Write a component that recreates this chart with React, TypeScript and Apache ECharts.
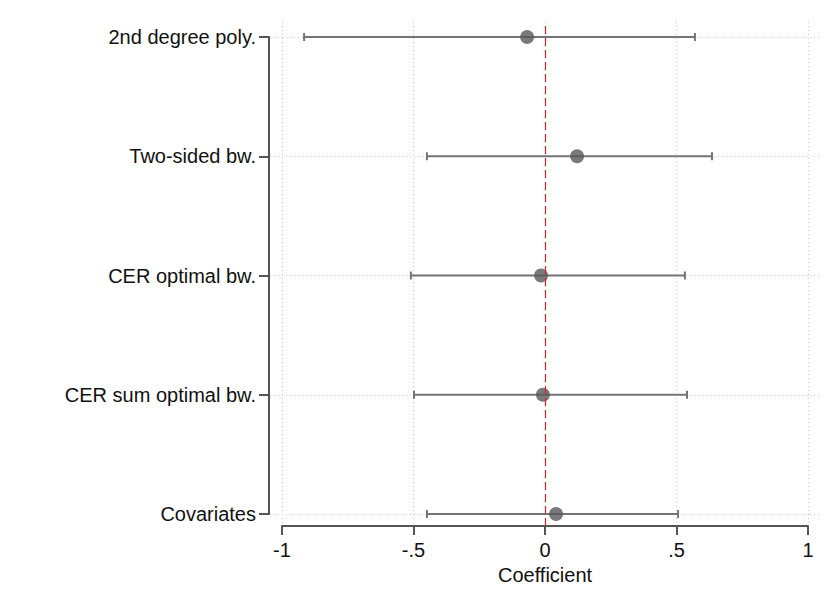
import React, { useEffect, useRef } from "react";
import * as echarts from "echarts";

const categories = ["2nd degree poly.", "Two-sided bw.", "CER optimal bw.", "CER sum optimal bw.", "Covariates"];
const coefs = [-0.068, 0.122, -0.015, -0.008, 0.042];
const lower = [-0.916, -0.449, -0.51, -0.498, -0.449];
const upper = [0.57, 0.635, 0.532, 0.54, 0.506];
const xTicks = [-1, -0.5, 0, 0.5, 1];
const xTickLabels = ["-1", "-.5", "0", ".5", "1"];

export default function App() {
  const ref = useRef<HTMLDivElement>(null);
  useEffect(() => {
    if (!ref.current) return;
    const chart = echarts.init(ref.current, null, { renderer: "svg" });
    const font = "Liberation Sans, Arial, sans-serif";
    const axisColor = "#555555";
    const gridLine = { show: true, lineStyle: { color: "#c8c8c8", type: [1, 3] as any, width: 1 } };
    const option: any = {
      animation: false,
      backgroundColor: "#ffffff",
      grid: [
        { left: 282, right: 23, top: 37, bottom: 92 },
        { left: 282, right: 23, top: 22, bottom: 80 },
        { left: 270, right: 10, top: 37, bottom: 92 },
      ],
      xAxis: [
        {
          gridIndex: 0,
          type: "value",
          min: -1,
          max: 1,
          interval: 0.5,
          offset: 12,
          axisLine: { show: true, onZero: false, lineStyle: { color: axisColor, width: 2 } },
          axisTick: { show: true, length: 9, lineStyle: { color: axisColor, width: 2 } },
          axisLabel: {
            color: "#111",
            fontSize: 20,
            fontFamily: font,
            margin: 14,
            formatter: (v: number) => {
              const i = xTicks.findIndex((t) => Math.abs(t - v) < 1e-9);
              return i >= 0 ? xTickLabels[i] : "";
            },
          },
          splitLine: { show: false },
          name: "Coefficient",
          nameLocation: "middle",
          nameGap: 36,
          nameTextStyle: { color: "#111", fontSize: 20, fontFamily: font },
        },
        {
          gridIndex: 1,
          type: "value",
          min: -1,
          max: 1,
          interval: 0.5,
          axisLine: { show: false },
          axisTick: { show: false },
          axisLabel: { show: false },
          splitLine: gridLine,
        },
        {
          gridIndex: 2,
          type: "value",
          min: 0,
          max: 1,
          show: false,
        },
      ],
      yAxis: [
        {
          gridIndex: 0,
          type: "category",
          data: categories,
          inverse: true,
          boundaryGap: false,
          offset: 13,
          axisLine: { show: true, onZero: false, lineStyle: { color: axisColor, width: 2 } },
          axisTick: { show: true, length: 10, alignWithLabel: true, lineStyle: { color: axisColor, width: 2 } },
          axisLabel: { color: "#111", fontSize: 20, fontFamily: font, margin: 13 },
          splitLine: { show: false },
        },
        {
          gridIndex: 1,
          type: "value",
          min: 0,
          max: 1,
          show: false,
        },
        {
          gridIndex: 2,
          type: "category",
          data: categories,
          inverse: true,
          boundaryGap: false,
          axisLine: { show: false },
          axisTick: { show: false },
          axisLabel: { show: false },
          splitLine: gridLine,
        },
      ],
      series: [
        {
          type: "scatter",
          xAxisIndex: 1,
          yAxisIndex: 1,
          data: [],
          silent: true,
          markLine: {
            silent: true,
            symbol: "none",
            label: { show: false },
            lineStyle: { color: "#d42226", type: [8, 4] as any, width: 1.2 },
            data: [{ xAxis: 0 }],
          },
        },
        {
          type: "custom",
          xAxisIndex: 0,
          yAxisIndex: 0,
          data: categories.map((c, i) => [lower[i], upper[i], i]),
          renderItem: (params: any, api: any) => {
            const lo = api.coord([api.value(0), api.value(2)]);
            const hi = api.coord([api.value(1), api.value(2)]);
            const cap = 4;
            const style = { stroke: "#747474", lineWidth: 2 };
            return {
              type: "group",
              children: [
                { type: "line", shape: { x1: lo[0], y1: lo[1], x2: hi[0], y2: hi[1] }, style },
                { type: "line", shape: { x1: lo[0], y1: lo[1] - cap, x2: lo[0], y2: lo[1] + cap }, style },
                { type: "line", shape: { x1: hi[0], y1: hi[1] - cap, x2: hi[0], y2: hi[1] + cap }, style },
              ],
            };
          },
          z: 3,
        },
        {
          type: "scatter",
          xAxisIndex: 0,
          yAxisIndex: 0,
          data: categories.map((c, i) => [coefs[i], i]),
          symbol: "circle",
          symbolSize: 14,
          itemStyle: { color: "#575757" },
          z: 4,
        },
      ],
    };
    chart.setOption(option);
    return () => chart.dispose();
  }, []);
  return <div ref={ref} style={{ position: "fixed", left: 0, top: 0, width: 831, height: 606 }} />;
}
